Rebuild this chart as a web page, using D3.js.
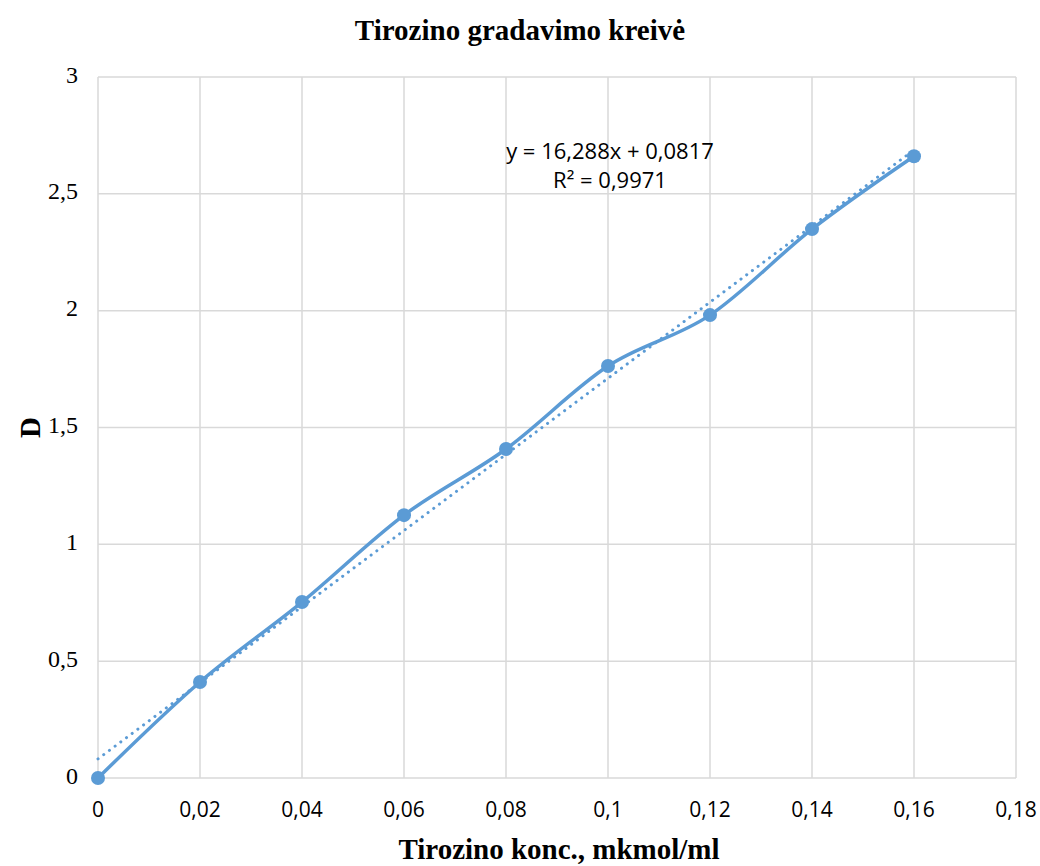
<!DOCTYPE html>
<html>
<head>
<meta charset="utf-8">
<script src="https://cdn.jsdelivr.net/npm/d3@7"></script>
<style>
  body { margin: 0; background: #fff; }
</style>
</head>
<body>
<div id="chart"></div>
<script>
var concValues = [0, 0.02, 0.04, 0.06, 0.08, 0.1, 0.12, 0.14, 0.16];
var dValues = [0, 0.411, 0.753, 1.125, 1.408, 1.763, 1.981, 2.349, 2.661];
var xTicks = [0, 0.02, 0.04, 0.06, 0.08, 0.1, 0.12, 0.14, 0.16, 0.18];
var yTicks = [0, 0.5, 1, 1.5, 2, 2.5, 3];
var slope = 16.288, intercept = 0.0817;
var equationLines = ["y = 16,288x + 0,0817", "R² = 0,9971"];

var margin = { top: 77, right: 24, bottom: 88, left: 98 },
    width = 1040 - margin.left - margin.right,
    height = 866 - margin.top - margin.bottom;

var blue = "#5b9bd5";
var fmt = function (d) { return String(d).replace(".", ","); };

var root = d3.select("#chart")
    .append("svg")
    .attr("width", 1040)
    .attr("height", 866);

var svg = root.append("g")
    .attr("transform", "translate(" + margin.left + "," + margin.top + ")");

var x = d3.scaleLinear().domain([0, 0.18]).range([0, width]);
var y = d3.scaleLinear().domain([0, 3]).range([height, 0]);

// gridlines
svg.append("g")
    .selectAll("line")
    .data(yTicks)
    .enter()
    .append("line")
    .attr("x1", 0).attr("x2", width)
    .attr("y1", function (d) { return y(d) })
    .attr("y2", function (d) { return y(d) })
    .attr("stroke", "#d9d9d9")
    .attr("stroke-width", 1.5);

svg.append("g")
    .selectAll("line")
    .data(xTicks)
    .enter()
    .append("line")
    .attr("y1", 0).attr("y2", height)
    .attr("x1", function (d) { return x(d) })
    .attr("x2", function (d) { return x(d) })
    .attr("stroke", "#d9d9d9")
    .attr("stroke-width", 1.5);

// axis labels
svg.append("g")
    .selectAll("text")
    .data(yTicks)
    .enter()
    .append("text")
    .attr("x", -20)
    .attr("y", function (d) { return y(d) })
    .attr("text-anchor", "end")
    .attr("dominant-baseline", "middle")
    .style("font-family", "'Liberation Serif', 'Times New Roman', serif")
    .style("font-size", "24px")
    .text(fmt);

svg.append("g")
    .selectAll("text")
    .data(xTicks)
    .enter()
    .append("text")
    .attr("x", function (d) { return x(d) })
    .attr("y", height + 39)
    .attr("text-anchor", "middle")
    .style("font-family", "'Open Sans', 'Liberation Sans', sans-serif")
    .style("font-size", "21px")
    .text(fmt);

// trendline (dotted)
svg.append("line")
    .attr("x1", x(0)).attr("y1", y(intercept))
    .attr("x2", x(0.16)).attr("y2", y(slope * 0.16 + intercept))
    .attr("stroke", blue)
    .attr("stroke-width", 3)
    .attr("stroke-linecap", "round")
    .attr("stroke-dasharray", "0.1,7");

// smoothed series line
var pts = concValues.map(function (c, i) { return [c, dValues[i]] });
var line = d3.line()
    .x(function (d) { return x(d[0]) })
    .y(function (d) { return y(d[1]) })
    .curve(d3.curveCatmullRom.alpha(0));

svg.append("path")
    .datum(pts)
    .attr("d", line)
    .attr("fill", "none")
    .attr("stroke", blue)
    .attr("stroke-width", 3.5);

svg.append("g")
    .selectAll("circle")
    .data(pts)
    .enter()
    .append("circle")
    .attr("cx", function (d) { return x(d[0]) })
    .attr("cy", function (d) { return y(d[1]) })
    .attr("r", 7)
    .attr("fill", blue);

// equation label
svg.append("g")
    .selectAll("text")
    .data(equationLines)
    .enter()
    .append("text")
    .attr("x", 512)
    .attr("y", function (d, i) { return 82 + i * 29 })
    .attr("text-anchor", "middle")
    .style("font-family", "'Open Sans', 'Liberation Sans', sans-serif")
    .style("font-size", "22px")
    .text(function (d) { return d });

// titles
root.append("text")
    .attr("x", 520)
    .attr("y", 40)
    .attr("text-anchor", "middle")
    .style("font-family", "'Liberation Serif', 'Times New Roman', serif")
    .style("font-weight", "bold")
    .style("font-size", "29px")
    .text("Tirozino gradavimo kreivė");

root.append("text")
    .attr("x", margin.left + width / 2 + 2)
    .attr("y", 859)
    .attr("text-anchor", "middle")
    .style("font-family", "'Liberation Serif', 'Times New Roman', serif")
    .style("font-weight", "bold")
    .style("font-size", "29px")
    .text("Tirozino konc., mkmol/ml");

root.append("text")
    .attr("transform", "translate(40," + (margin.top + height / 2) + ") rotate(-90)")
    .attr("text-anchor", "middle")
    .style("font-family", "'Liberation Serif', 'Times New Roman', serif")
    .style("font-weight", "bold")
    .style("font-size", "29px")
    .text("D");
</script>
</body>
</html>
